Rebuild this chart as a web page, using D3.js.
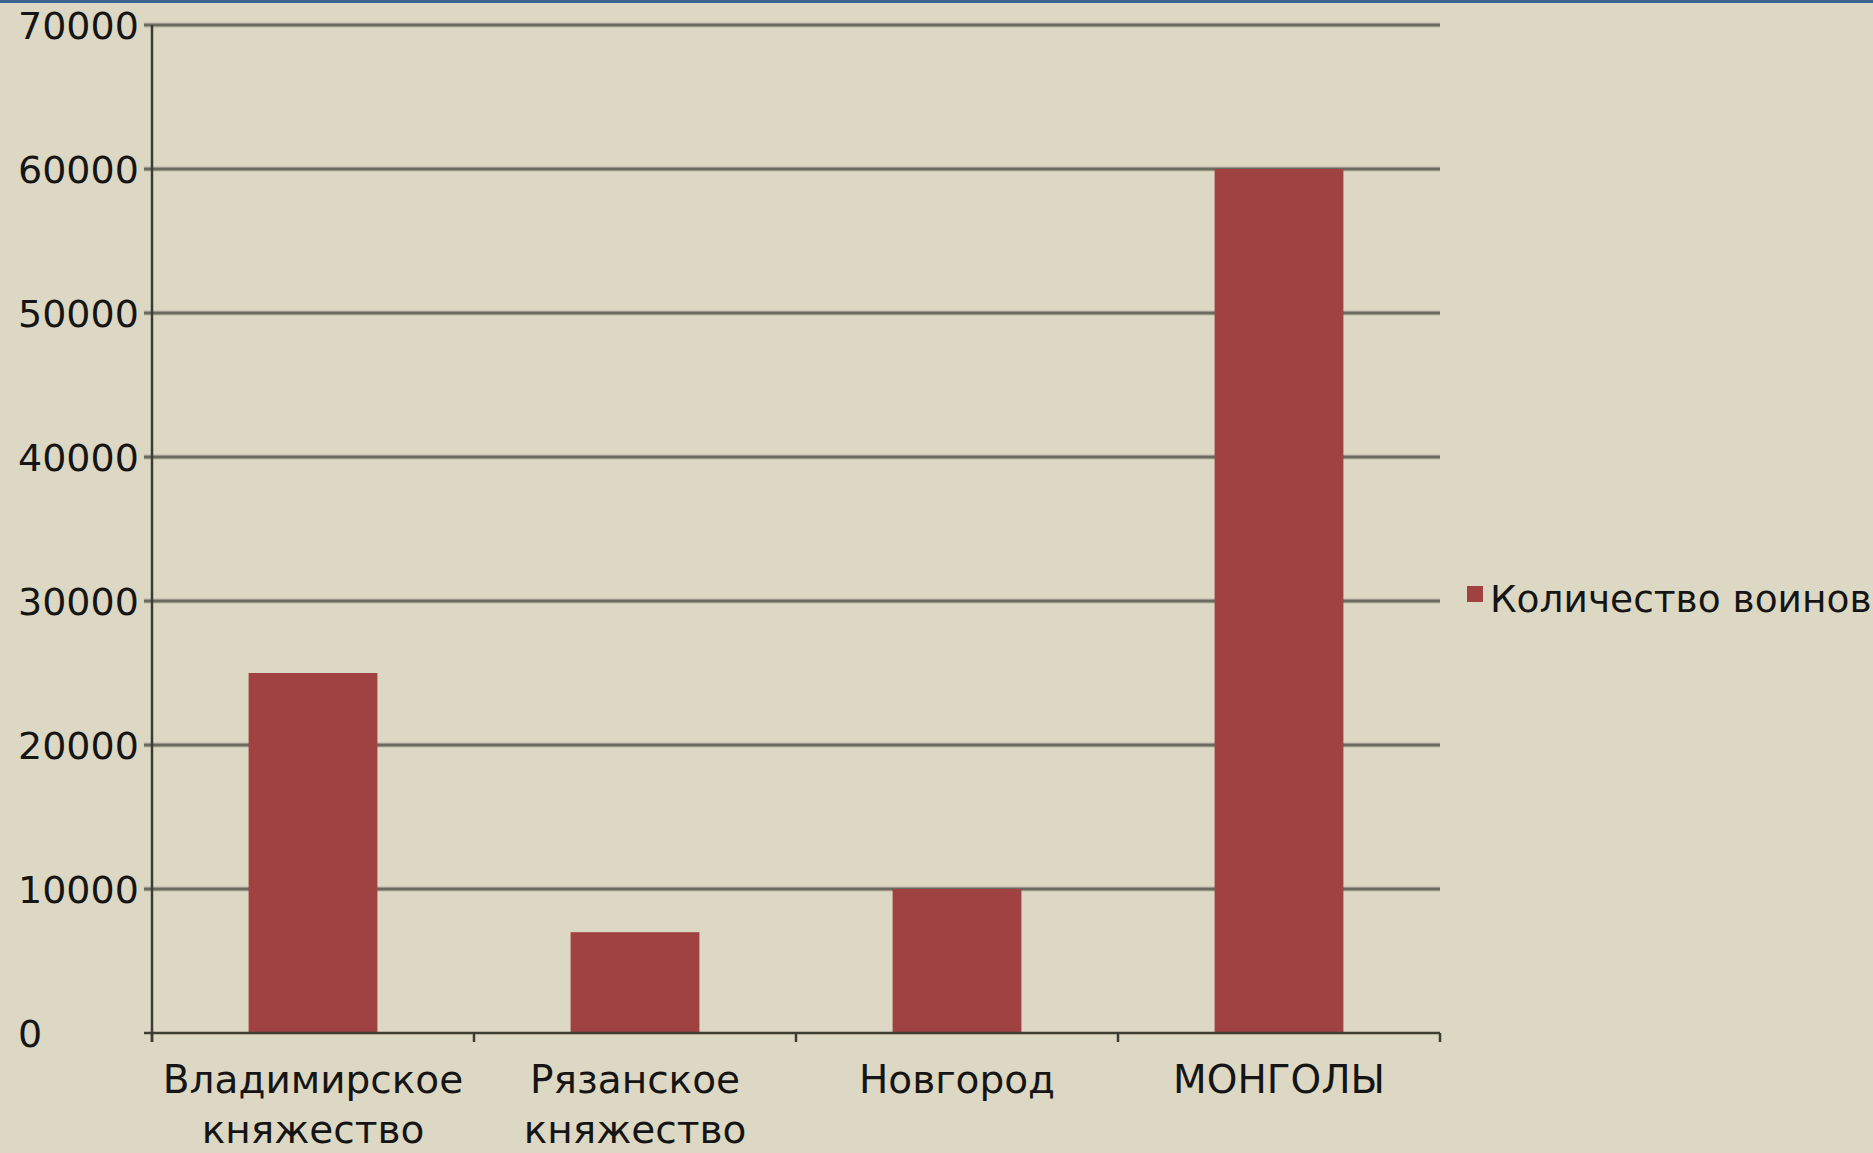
<!DOCTYPE html>
<html><head><meta charset="utf-8">
<script src="https://cdn.jsdelivr.net/npm/d3@7"></script>
<style>
html,body{margin:0;padding:0;background:#ddd8c3;overflow:hidden;}
svg{display:block;}
text{font-family:"DejaVu Sans",sans-serif;fill:#151515;}
</style></head><body>
<script>
const categories = ["Владимирское княжество","Рязанское княжество","Новгород","МОНГОЛЫ"];
const values = [25000, 7000, 10000, 60000];
const yTicks = [0,10000,20000,30000,40000,50000,60000,70000];
const seriesName = "Количество воинов";

(function(){
const W = 1873, H = 1153;
const svg = d3.select("body").append("svg").attr("width",W).attr("height",H);
svg.append("rect").attr("width",W).attr("height",H).attr("fill","#ddd8c3");
svg.append("rect").attr("width",W).attr("height",3).attr("fill","#3c6592");

const mLeft = 152, mRight = 1440, mTop = 25, mBottom = 1033;
const x = d3.scaleBand().domain(categories).range([mLeft,mRight]).paddingInner(0.6).paddingOuter(0.3);
const y = d3.scaleLinear().domain([0,70000]).range([mBottom,mTop]);

svg.append("g").selectAll("line").data(yTicks.filter(d=>d>0)).join("line")
  .attr("x1",mLeft-8).attr("x2",mRight).attr("y1",d=>y(d)).attr("y2",d=>y(d))
  .attr("stroke","#9a978a").attr("stroke-width",4.5);
svg.append("g").selectAll("line").data(yTicks.filter(d=>d>0)).join("line")
  .attr("x1",mLeft-8).attr("x2",mRight).attr("y1",d=>y(d)).attr("y2",d=>y(d))
  .attr("stroke","#6c6a5e").attr("stroke-width",2);

svg.append("g").selectAll("rect").data(values).join("rect")
  .attr("x",(d,i)=>x(categories[i])).attr("width",x.bandwidth())
  .attr("y",d=>y(d)).attr("height",d=>mBottom-y(d))
  .attr("fill","#a14242");

svg.append("line").attr("x1",mLeft).attr("x2",mLeft).attr("y1",mTop).attr("y2",mBottom+9)
  .attr("stroke","#3e3d33").attr("stroke-width",2.5);
svg.append("line").attr("x1",mLeft-8).attr("x2",mRight).attr("y1",mBottom).attr("y2",mBottom)
  .attr("stroke","#3e3d33").attr("stroke-width",2.5);
const step = (mRight-mLeft)/categories.length;
svg.append("g").selectAll("line").data(d3.range(categories.length+1)).join("line")
  .attr("x1",i=>mLeft+i*step).attr("x2",i=>mLeft+i*step).attr("y1",mBottom).attr("y2",mBottom+9)
  .attr("stroke","#3e3d33").attr("stroke-width",2.5);

svg.append("g").selectAll("text").data(yTicks).join("text")
  .attr("x",18).attr("y",d=>y(d)+14).attr("font-size",38).text(d=>d);

svg.append("g").selectAll("text").data(categories).join("text")
  .attr("text-anchor","middle").attr("font-size",39)
  .attr("transform",d=>`translate(${x(d)+x.bandwidth()/2},0)`)
  .each(function(d){
    const words = d.split(" ");
    d3.select(this).selectAll("tspan").data(words).join("tspan")
      .attr("x",0).attr("y",(w,i)=>1093+i*50).text(w=>w);
  });

svg.append("rect").attr("x",1467).attr("y",586).attr("width",16).attr("height",16).attr("fill","#a14242");
svg.append("text").attr("x",1490).attr("y",612).attr("font-size",37.5).text(seriesName);
})();
</script>
</body></html>
